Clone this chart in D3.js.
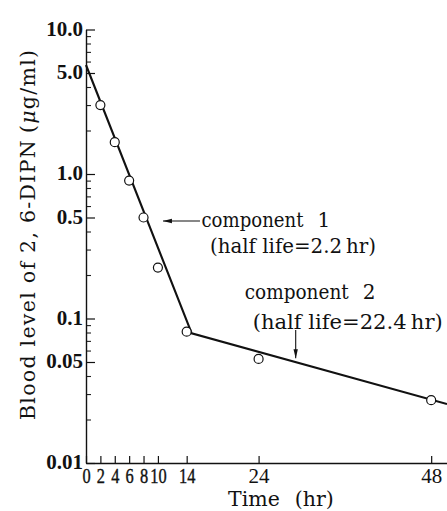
<!DOCTYPE html>
<html>
<head>
<meta charset="utf-8">
<script src="https://cdn.jsdelivr.net/npm/d3@7"></script>
<style>
  html, body { margin: 0; padding: 0; background: #fff; }
  svg { display: block; }
</style>
</head>
<body>
<div id="chart"></div>
<script>
// ---- data ----
const sampleTimes = [2, 4, 6, 8, 10, 14, 24, 48];
const sampleLevels = [3.0, 1.66, 0.90, 0.50, 0.225, 0.081, 0.0525, 0.0272];
const fitTimes = [0, 14.7, 50.2];
const fitLevels = [5.68, 0.079, 0.0256];
const xTickValues = [0, 2, 4, 6, 8, 10, 14, 24, 48];
const xTickLabels = ["0", "2", "4", "6", "8", "10", "14", "24", "48"];
const yTickValues = [10, 5, 1, 0.5, 0.1, 0.05, 0.01];
const yTickLabels = ["10.0", "5.0", "1.0", "0.5", "0.1", "0.05", "0.01"];
const xTitle = ["Time", "(hr)"];
const yTitle = "Blood level of 2, 6-DIPN";
const yUnit = ["(", "\u03bc", "g/ml)"];
const comp1Lines = ["component", "1", "(half life=2.2\u2009hr)"];
const comp2Lines = ["component", "2", "(half life=22.4\u2009hr)"];
// annotation anchors in data units: [time, level]
const arrow1 = { tip: [10.7, 0.473], tail: [15.85, 0.473] };
const arrow2 = { tip: [29.16, 0.053], tail: [29.16, 0.0832] };

// ---- layout ----
const SERIF = "'DejaVu Serif', serif";
const TICKF = "'Liberation Serif', serif";
const W = 447, H = 511;
const mLeft = 86, mRight = 447, mTop = 29.5, mBottom = 463;

const svg = d3.select("#chart").append("svg").attr("width", W).attr("height", H)
  .attr("font-family", SERIF);

const x = d3.scaleLinear().domain([0, 50.2]).range([mLeft, mRight]);
const y = d3.scaleLog().domain([0.01, 10]).range([mBottom, mTop]);

// minor y ticks
const minorVals = [];
[0.01, 0.1, 1].forEach(d => { for (let k = 2; k <= 9; k++) minorVals.push(+(d * k).toPrecision(3)); });
const minorOnly = minorVals.filter(v => !yTickValues.includes(v));

svg.append("g")
  .attr("transform", `translate(${mLeft},0)`)
  .call(d3.axisLeft(y).tickValues(minorOnly).tickSizeInner(-5).tickSizeOuter(0).tickFormat(""))
  .call(g => g.select(".domain").remove())
  .call(g => g.selectAll("line").attr("stroke", "#222").attr("stroke-width", 1.1));

// major y axis
svg.append("g")
  .attr("transform", `translate(${mLeft},0)`)
  .call(d3.axisLeft(y).tickValues(yTickValues).tickSizeInner(-9).tickSizeOuter(0).tickPadding(3)
    .tickFormat((d, i) => yTickLabels[i]))
  .call(g => g.attr("font-family", TICKF))
  .call(g => g.select(".domain").attr("stroke", "#111").attr("stroke-width", 1.4))
  .call(g => g.selectAll("line").attr("stroke", "#111").attr("stroke-width", 1.2))
  .call(g => g.selectAll("text").attr("font-size", 21)
    .attr("fill", "#111").attr("dy", "0.28em").attr("font-weight", "bold"));

// x axis
svg.append("g")
  .attr("transform", `translate(0,${mBottom})`)
  .call(d3.axisBottom(x).tickValues(xTickValues).tickSizeInner(-7).tickSizeOuter(0).tickPadding(5)
    .tickFormat((d, i) => xTickLabels[i]))
  .call(g => g.attr("font-family", TICKF))
  .call(g => g.select(".domain").attr("stroke", "#111").attr("stroke-width", 1.4))
  .call(g => g.selectAll("line").attr("stroke", "#111").attr("stroke-width", 1.2))
  .call(g => g.selectAll("text").attr("font-size", 21)
    .attr("fill", "#111")
    .attr("stroke", d => d <= 14 ? "#111" : null).attr("stroke-width", 0.4)
    .attr("transform", d => d <= 14 ? "scale(0.78,1)" : null));

// fitted line
svg.append("path")
  .datum(fitTimes.map((t, i) => [t, fitLevels[i]]))
  .attr("fill", "none").attr("stroke", "#111").attr("stroke-width", 2.1)
  .attr("d", d3.line().x(d => x(d[0])).y(d => y(d[1])));

// sample points
svg.append("g").selectAll("circle")
  .data(sampleTimes.map((t, i) => [t, sampleLevels[i]]))
  .join("circle")
  .attr("cx", d => x(d[0])).attr("cy", d => y(d[1])).attr("r", 4.5)
  .attr("fill", "#fff").attr("stroke", "#111").attr("stroke-width", 1.2);

// arrows
function arrow(a) {
  const x1 = x(a.tail[0]), y1 = y(a.tail[1]), x2 = x(a.tip[0]), y2 = y(a.tip[1]);
  svg.append("line").attr("x1", x1).attr("y1", y1).attr("x2", x2).attr("y2", y2)
    .attr("stroke", "#111").attr("stroke-width", 1.1);
  const ang = Math.atan2(y2 - y1, x2 - x1);
  const L = 9, Wd = 2.2;
  const bx = x2 - L * Math.cos(ang), by = y2 - L * Math.sin(ang);
  const px = -Math.sin(ang) * Wd, py = Math.cos(ang) * Wd;
  svg.append("path")
    .attr("d", `M${x2},${y2}L${bx + px},${by + py}L${bx - px},${by - py}Z`)
    .attr("fill", "#111");
}
arrow(arrow1);
arrow(arrow2);

// annotation texts
function label(xx, yy, words, lenHead, lenSub, subDx, subDy) {
  const t = svg.append("text").attr("x", xx).attr("y", yy)
    .attr("font-size", 20).attr("fill", "#111");
  t.append("tspan").text(words[0]).attr("textLength", lenHead[0]).attr("lengthAdjust", "spacingAndGlyphs");
  t.append("tspan").attr("dx", lenHead[1]).text(words[1]);
  svg.append("text").attr("x", xx + subDx).attr("y", yy + subDy)
    .attr("font-size", 20).attr("fill", "#111")
    .attr("textLength", lenSub).attr("lengthAdjust", "spacingAndGlyphs")
    .text(words[2]);
}
const a1x = x(arrow1.tail[0]), a1y = y(arrow1.tail[1]);
label(a1x + 1.5, a1y + 6, comp1Lines, [102, 14], 166, 8.5, 26.5);

const a2x = x(arrow2.tail[0]), a2y = y(arrow2.tail[1]);
label(a2x - 51, a2y - 31.5, comp2Lines, [104, 14], 190, 8, 30);

// x title
const xt = svg.append("text").attr("x", 228).attr("y", 506).attr("font-size", 20.5)
  .attr("fill", "#111");
xt.append("tspan").text(xTitle[0]);
xt.append("tspan").attr("dx", 15).text(xTitle[1]);

// y title
const yt = svg.append("text")
  .attr("transform", `translate(35,420) rotate(-90)`)
  .attr("font-size", 20.5).attr("fill", "#111")
  .attr("textLength", 370).attr("lengthAdjust", "spacing");
yt.append("tspan").text(yTitle);
yt.append("tspan").attr("dx", 6).text(yUnit[0]);
yt.append("tspan").attr("font-style", "italic").text(yUnit[1]);
yt.append("tspan").text(yUnit[2]);
</script>
</body>
</html>
